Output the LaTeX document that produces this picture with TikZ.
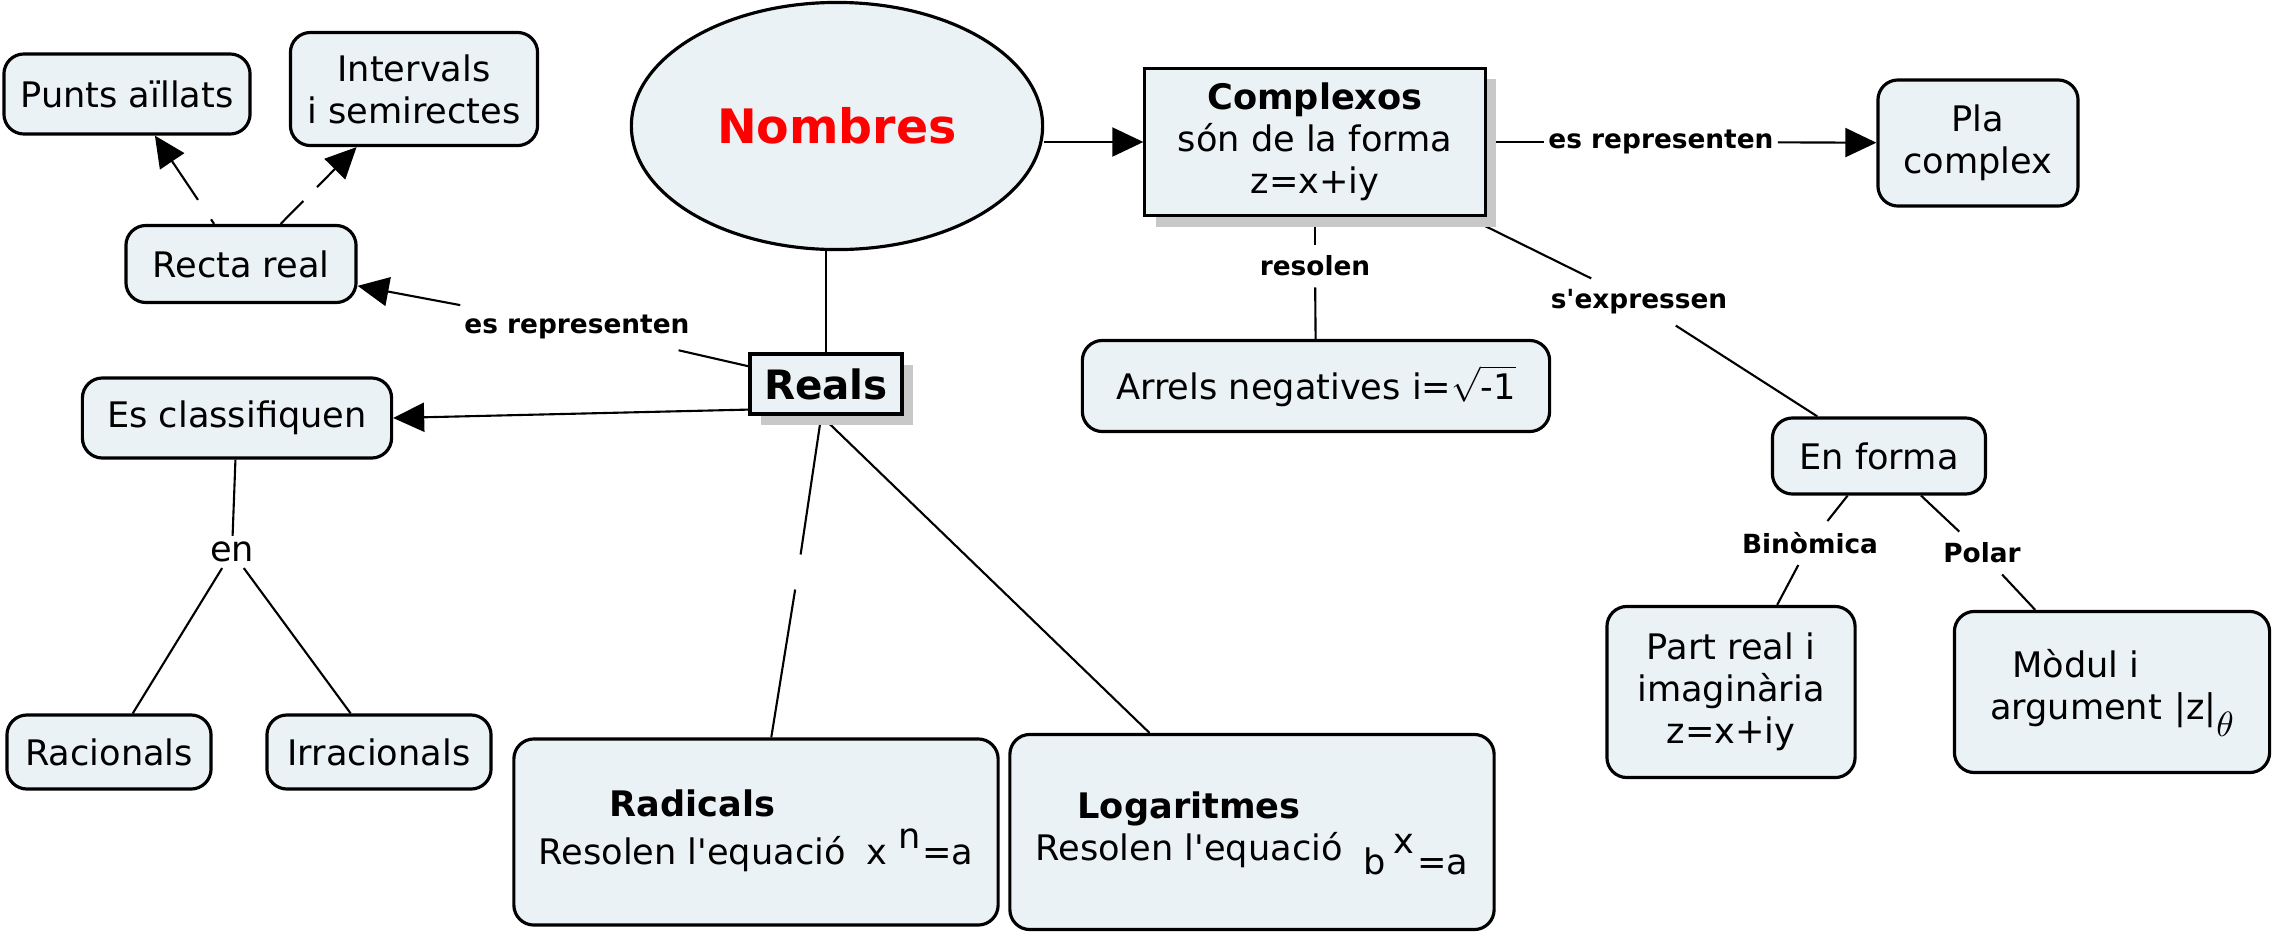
\documentclass[tikz,border=0pt]{standalone}
\usepackage{fontspec}
\setmainfont{DejaVu Sans}
\usetikzlibrary{arrows.meta,positioning,calc,shapes.geometric,shadows,backgrounds}
\definecolor{conceptfill}{RGB}{235,242,245}
\definecolor{shadowgray}{RGB}{200,200,200}
\newcommand{\apos}{\textquotesingle}

\begin{document}
\begin{tikzpicture}[
    x=0.01cm, y=-0.01cm,
    every node/.style={font=\fontsize{10}{12}\selectfont},
    concept/.style={draw, line width=0.9pt, fill=conceptfill, rounded corners=0.2cm, align=center, inner sep=2pt},
    mainbox/.style={draw, line width=0.9pt, fill=conceptfill, align=center,
        general shadow={fill=shadowgray, shadow xshift=0.11cm, shadow yshift=-0.11cm}},
    linkword/.style={font=\fontsize{7.5}{9}\selectfont\bfseries, inner xsep=1pt, inner ysep=3pt},
    emptylink/.style={circle, inner sep=0pt},
    link/.style={line width=0.6pt},
    arrow/.style={link, -{Triangle[length=3.1mm,width=2.9mm]}}
]
\useasboundingbox (0,0) rectangle (2278,939);

% ---- main concepts ----
\node[ellipse, draw, line width=0.9pt, fill=conceptfill, minimum width=4.11cm, minimum height=2.47cm,
      font=\fontsize{13.5}{16}\selectfont\bfseries, text=red] (nombres) at (837,126) {Nombres};
\node[mainbox, minimum width=3.40cm, minimum height=1.47cm] (complexos) at (1315,142)
    {\textbf{Complexos}\\són de la forma\\z=x+iy};
\node[mainbox, minimum width=1.52cm, minimum height=0.60cm,
      font=\fontsize{11.5}{14}\selectfont\bfseries] (reals) at (826,384) {Reals};

% ---- reals ----
\node[concept, minimum width=2.46cm, minimum height=0.80cm] (punts) at (127,94) {Punts aïllats};
\node[concept, minimum width=2.47cm, minimum height=1.13cm] (intervals) at (414,89) {Intervals\\i semirectes};
\node[concept, minimum width=2.30cm, minimum height=0.77cm] (recta) at (241,264) {Recta real};
\node[concept, minimum width=3.09cm, minimum height=0.80cm] (classif) at (237,418) {Es classifiquen};
\node[concept, minimum width=2.04cm, minimum height=0.74cm] (racionals) at (109,752) {Racionals};
\node[concept, minimum width=2.24cm, minimum height=0.74cm] (irracionals) at (379,752) {Irracionals};
\node[concept, minimum width=4.84cm, minimum height=1.86cm] (radicals) at (756,832)
    {\begin{tabular}{@{}c@{\hspace{0.6em}}l@{}}\textbf{Radicals} & \\
     Resolen l\apos equació & x\hspace{0.3em}\raisebox{0.8ex}{n}\hspace{0.05em}=a\end{tabular}};
\node[concept, minimum width=4.84cm, minimum height=1.95cm] (logaritmes) at (1252,832)
    {\begin{tabular}{@{}c@{\hspace{0.6em}}l@{}}\textbf{Logaritmes} & \\
     Resolen l\apos equació & \raisebox{-0.7ex}{b}\hspace{0.2em}\raisebox{0.4ex}{x}\hspace{0.1em}\raisebox{-0.7ex}{=a}\end{tabular}};

% ---- complexos ----
\node[concept, minimum width=2.00cm, minimum height=1.26cm] (pla) at (1978,143) {Pla\\complex};
\node[concept, minimum width=4.67cm, minimum height=0.91cm] (arrels) at (1316,386)
    {Arrels negatives i=$\sqrt{\mbox{-1}}$};
\node[concept, minimum width=2.13cm, minimum height=0.76cm] (enforma) at (1879,456) {En forma};
\node[concept, minimum width=2.48cm, minimum height=1.71cm] (partreal) at (1731,692)
    {Part real i\\imaginària\\z=x+iy};
\node[concept, minimum width=3.15cm, minimum height=1.61cm] (modul) at (2112,692)
    {\begin{tabular}{@{}c@{\hspace{0.35em}}l@{}}Mòdul i & \\
     argument & |z|\raisebox{-0.9ex}{$\theta$}\end{tabular}};

% ---- linking words ----
\node[linkword] (lrecta) at (577,327) {es representen};
\node[linkword, font=\fontsize{10}{12}\selectfont, inner sep=1.5pt] (len) at (232,552) {en};
\node[linkword] (lresolen) at (1315,266) {resolen};
\node[linkword] (lpla) at (1661,142) {es representen};
\node[linkword] (lexpr) at (1639,302) {s\apos expressen};
\node[linkword] (lbinom) at (1810,543) {Binòmica};
\node[linkword] (lpolar) at (1982,553) {Polar};
\node[emptylink, minimum size=0.22cm] (gpunts) at ($(recta)!0.32!(punts)$) {};
\node[emptylink, minimum size=0.18cm] (ginter) at ($(recta)!0.40!(intervals)$) {};
\node[emptylink, minimum size=0.34cm] (gradic) at (798,572) {};

% ---- connectors ----
\begin{scope}[on background layer]
\draw[arrow] (nombres.east |- complexos.west) -- (complexos.west);
\draw[link] (reals.north) -- (reals.north |- nombres.south);
\draw[link] (reals) -- (lrecta);
\draw[arrow] (lrecta) -- (recta);
\draw[arrow] ([yshift=0.06cm]reals.south west) -- (classif.east);
\draw[link] (recta) -- (gpunts);
\draw[arrow] (gpunts) -- (punts);
\draw[link] (recta) -- (ginter);
\draw[arrow] (ginter) -- (intervals);
\draw[link] (classif) -- (len);
\draw[link] (len) -- (racionals);
\draw[link] (len) -- (irracionals);
\draw[link] (reals) -- (gradic);
\draw[link] (gradic) -- (radicals);
\draw[link] ([xshift=-0.05cm]reals.south) -- (logaritmes);
\draw[link] (complexos) -- (lresolen);
\draw[link] (lresolen) -- (arrels);
\draw[link] (complexos) -- (lpla);
\draw[arrow] (lpla) -- (pla);
\draw[link] (complexos) -- (lexpr);
\draw[link] (lexpr) -- (enforma);
\draw[link] (enforma) -- (lbinom);
\draw[link] (lbinom) -- (partreal);
\draw[link] (enforma) -- (lpolar);
\draw[link] (lpolar) -- (modul);
\end{scope}
\end{tikzpicture}
\end{document}
